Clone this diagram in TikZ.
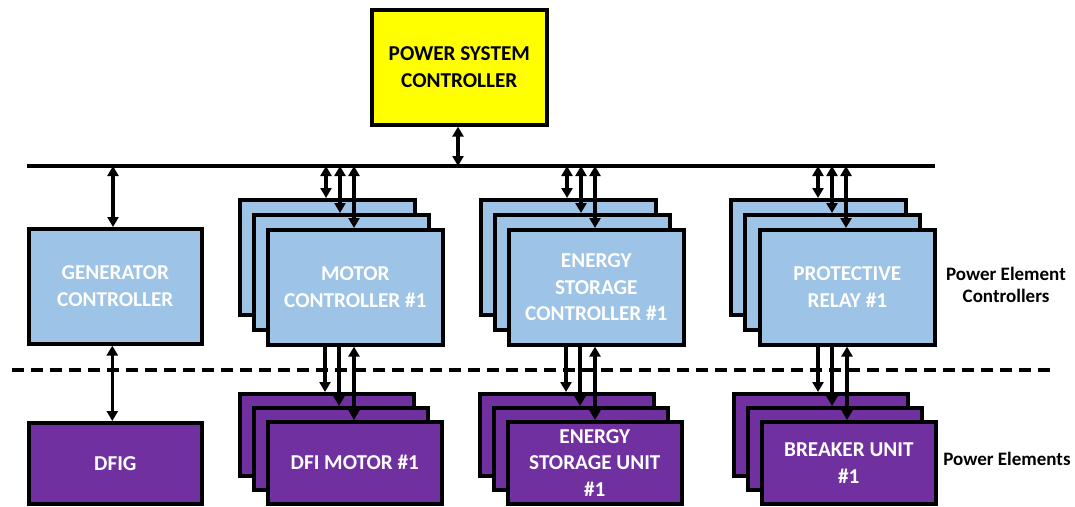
\documentclass[tikz,border=0pt]{standalone}
\usepackage{fontspec}
\setmainfont{Carlito}
\usetikzlibrary{arrows.meta}
\definecolor{ctrlblue}{HTML}{9DC3E6}
\definecolor{elempurple}{HTML}{7030A0}
\definecolor{pscyellow}{HTML}{FFFF00}
\tikzset{
  boxbase/.style={draw=black, line width=3.6pt, anchor=north west, inner sep=0pt, align=center,
    font=\fontsize{21.2}{26.7}\selectfont\bfseries},
  ctrlbox/.style={boxbase, fill=ctrlblue, text=white, minimum width=175pt, minimum height=115pt},
  elembox/.style={boxbase, fill=elempurple, text=white, minimum width=174pt, minimum height=82pt},
  pscbox/.style={boxbase, fill=pscyellow, text=black, minimum width=175pt, minimum height=115pt},
  sidelabel/.style={align=center, inner sep=0pt, font=\fontsize{19}{22}\selectfont\bfseries},
  link/.style={line width=3.3pt, {Triangle[width=11pt,length=10pt]}-{Triangle[width=11pt,length=10pt]}},
  downlink/.style={line width=3.3pt, -{Triangle[width=11pt,length=10pt]}},
  busline/.style={line width=4.2pt},
  sepline/.style={line width=3.2pt, dash pattern=on 12pt off 7pt},
}
\begin{document}
\begin{tikzpicture}[x=1pt,y=-1pt]
\useasboundingbox (0,0) rectangle (1075,506);
% power system controller
\node[pscbox] (psc) at (370,8) {POWER SYSTEM\\CONTROLLER};
% bus
\coordinate (busL) at (27,166);
\coordinate (busR) at (935,166);
\draw[busline] (busL) -- (busR);
% separator
\coordinate (sepL) at (12,370);
\coordinate (sepR) at (1056,370);
\draw[sepline] (sepL) -- (sepR);
% generator
\node[ctrlbox, minimum width=173pt] (gen) at (27,227) {GENERATOR\\CONTROLLER};
\node[elembox, minimum width=173pt, minimum height=81pt] (dfig) at (27,421) {DFIG};
% motor stack
\node[ctrlbox] (mc3) at (238,198) {};
\node[ctrlbox] (mc2) at (252,213) {};
\node[ctrlbox] (mc1) at (266,228) {MOTOR\\CONTROLLER \#1};
\node[elembox] (mo3) at (238,392) {};
\node[elembox] (mo2) at (252,406) {};
\node[elembox] (mo1) at (266,420) {DFI MOTOR \#1};
% energy storage stack
\node[ctrlbox] (ec3) at (479,198) {};
\node[ctrlbox] (ec2) at (493,213) {};
\node[ctrlbox] (ec1) at (507,228) {ENERGY\\STORAGE\\CONTROLLER \#1};
\node[elembox] (eu3) at (478,392) {};
\node[elembox] (eu2) at (492,406) {};
\node[elembox] (eu1) at (506,420) {ENERGY\\STORAGE UNIT\\\#1};
% protective relay stack
\node[ctrlbox] (pr3) at (729,198) {};
\node[ctrlbox] (pr2) at (743,213) {};
\node[ctrlbox] (pr1) at (758,228) {PROTECTIVE\\RELAY \#1};
\node[elembox] (bu3) at (732,392) {};
\node[elembox] (bu2) at (746,406) {};
\node[elembox] (bu1) at (760,420) {BREAKER UNIT\\\#1};
% side labels
\node[sidelabel] (lblc) at (1006,285) {Power Element\\Controllers};
\node[sidelabel] (lble) at (1007,459) {Power Elements};
% bus taps
\coordinate (tpsc) at (458,166);
\coordinate (tgen) at (113,166);
\foreach \n/\x in {m/266, e/507, p/758}{
  \coordinate (t\n1) at (\x+60,166);
  \coordinate (t\n2) at (\x+74,166);
  \coordinate (t\n3) at (\x+88,166);
}
% arrows
\draw[link] (psc.south -| tpsc) -- (tpsc);
\draw[link] (tgen) -- (tgen |- gen.north);
\draw[link] ([xshift=-3pt]gen.south) -- ([xshift=-3pt]gen.south |- dfig.north);
\draw[link] (tm1) -- (tm1 |- mc3.north);
\draw[link] (tm2) -- (tm2 |- mc2.north);
\draw[link] (tm3) -- (tm3 |- mc1.north);
\draw[link] (te1) -- (te1 |- ec3.north);
\draw[link] (te2) -- (te2 |- ec2.north);
\draw[link] (te3) -- (te3 |- ec1.north);
\draw[link] (tp1) -- (tp1 |- pr3.north);
\draw[link] (tp2) -- (tp2 |- pr2.north);
\draw[link] (tp3) -- (tp3 |- pr1.north);
% lower arrows
\foreach \c/\a/\b/\cc/\x in {mc1/mo3/mo2/mo1/266, ec1/eu3/eu2/eu1/507, pr1/bu3/bu2/bu1/759}{
  \coordinate (d1) at (\x+59,0);
  \coordinate (d2) at (\x+73,0);
  \coordinate (d3) at (\x+88,0);
  \draw[downlink] (d1 |- \c.south) -- (d1 |- \a.north);
  \draw[downlink] (d2 |- \c.south) -- (d2 |- \b.north);
  \draw[link] (d3 |- \c.south) -- (d3 |- \cc.north);
}
\end{tikzpicture}
\end{document}
